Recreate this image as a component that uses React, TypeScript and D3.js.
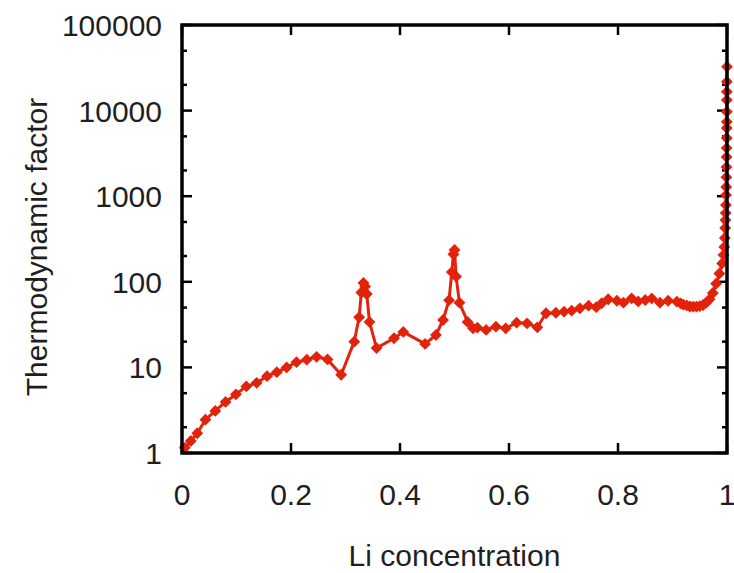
import React from 'react';
import * as d3 from 'd3';

// Li concentration (x) and thermodynamic factor (y)
const concentration = [
  0.005, 0.016, 0.028, 0.043, 0.061, 0.080, 0.099, 0.118, 0.137, 0.156,
  0.174, 0.192, 0.210, 0.229, 0.247, 0.267, 0.292, 0.316, 0.325, 0.329,
  0.333, 0.336, 0.339, 0.344, 0.357, 0.389, 0.406, 0.446, 0.466, 0.479,
  0.490, 0.495, 0.498, 0.500, 0.503, 0.509, 0.524, 0.534, 0.542, 0.558,
  0.576, 0.594, 0.614, 0.633, 0.652, 0.668, 0.686, 0.701, 0.715, 0.730,
  0.746, 0.760, 0.770, 0.782, 0.798, 0.810, 0.825, 0.837, 0.850, 0.862,
  0.877, 0.892, 0.908, 0.915, 0.920, 0.926, 0.932, 0.938, 0.944, 0.950,
  0.956, 0.962, 0.968, 0.974, 0.980, 0.986, 0.991, 0.9935, 0.995, 0.996,
  0.9967, 0.9972, 0.9976, 0.998, 0.9983, 0.9986, 0.9988, 0.999, 0.9992, 0.9993,
  0.9994, 0.9995, 0.9996, 0.99965, 0.9997, 0.99975, 0.9998, 0.9999,
];
const thermoFactor = [
  1.15, 1.38, 1.7, 2.45, 3.1, 3.95, 4.85, 6.0, 6.6, 7.9,
  8.8, 10.0, 11.5, 12.3, 13.3, 12.4, 8.2, 20.0, 38.5, 75,
  97, 88, 72, 34, 16.8, 21.9, 26.0, 18.8, 23.9, 35.8,
  61, 130, 210, 235, 115, 57, 34, 28.6, 29.1, 27.4,
  29.9, 28.6, 33.3, 32.7, 29.4, 42.9, 43.5, 44.8, 46.0, 49.0,
  52.6, 50.5, 56.1, 62.5, 60.1, 57, 64, 59, 61.3, 64,
  57, 60, 58.6, 56, 54, 53, 51.5, 51.3, 51.3, 52,
  53.6, 57, 62.5, 74, 95, 125, 164, 206, 255, 325,
  425, 527, 636, 789, 1030, 1280, 1670, 2190, 2870, 3650,
  4790, 6260, 7400, 9700, 13300, 16600, 21800, 32600,
];

const xTicks = [0, 0.2, 0.4, 0.6, 0.8, 1];
const xTickLabels = ['0', '0.2', '0.4', '0.6', '0.8', '1'];
const yTicks = [1, 10, 100, 1000, 10000, 100000];
const yTickLabels = ['1', '10', '100', '1000', '10000', '100000'];
const yMinorSteps = [2, 5];

const W = 734;
const H = 573;
const left = 182;
const right = 727;
const top = 25;
const bottom = 453;
const red = '#e3220c';
const font = '"Liberation Sans", Arial, Helvetica, sans-serif';

export default function App() {
  const x = d3.scaleLinear().domain([0, 1]).range([left, right]);
  const y = d3.scaleLog().domain([1, 100000]).range([bottom, top]);

  const points = concentration.map((c, i) => [c, thermoFactor[i]] as [number, number]);
  const line = d3.line<[number, number]>()
    .x(d => x(d[0]))
    .y(d => y(d[1]));
  const diamond = d3.symbol().type(d3.symbolSquare).size(70)();

  const minor: number[] = [];
  yTicks.slice(0, -1).forEach(t => yMinorSteps.forEach(s => minor.push(t * s)));

  return (
    <svg width={W} height={H} style={{ position: 'absolute', left: 0, top: 0, background: '#fff' }}>
      {/* ticks */}
      <g stroke="#000" strokeWidth={2.5}>
        {xTicks.map(t => (
          <g key={'xt' + t}>
            <line x1={x(t)} x2={x(t)} y1={bottom} y2={bottom - 10} />
            <line x1={x(t)} x2={x(t)} y1={top} y2={top + 10} />
          </g>
        ))}
        {yTicks.map(t => (
          <g key={'yt' + t}>
            <line x1={left} x2={left + 10} y1={y(t)} y2={y(t)} />
            <line x1={right} x2={right - 10} y1={y(t)} y2={y(t)} />
          </g>
        ))}
        {minor.map(t => (
          <g key={'ym' + t}>
            <line x1={left} x2={left + 5} y1={y(t)} y2={y(t)} />
            <line x1={right} x2={right - 5} y1={y(t)} y2={y(t)} />
          </g>
        ))}
      </g>

      {/* data */}
      <path d={line(points) ?? ''} fill="none" stroke={red} strokeWidth={3} strokeLinejoin="round" />
      {points.map((p, i) => (
        <path key={i} d={diamond} fill={red}
          transform={`translate(${x(p[0])},${y(p[1])}) rotate(45)`} />
      ))}

      {/* frame */}
      <rect x={left} y={top} width={right - left} height={bottom - top}
        fill="none" stroke="#000" strokeWidth={3.5} />

      {/* tick labels */}
      <g fontFamily={font} fontSize={30} fill="#1f1f1f">
        {xTicks.map((t, i) => (
          <text key={'xl' + t} x={x(t)} y={505} textAnchor="middle">{xTickLabels[i]}</text>
        ))}
        {yTicks.map((t, i) => (
          <text key={'yl' + t} x={162} y={y(t) + 11} textAnchor="end">{yTickLabels[i]}</text>
        ))}
        <text x={(left + right) / 2} y={566} textAnchor="middle">Li concentration</text>
        <text transform={`translate(47,${247}) rotate(-90)`} textAnchor="middle">Thermodynamic factor</text>
      </g>
    </svg>
  );
}
